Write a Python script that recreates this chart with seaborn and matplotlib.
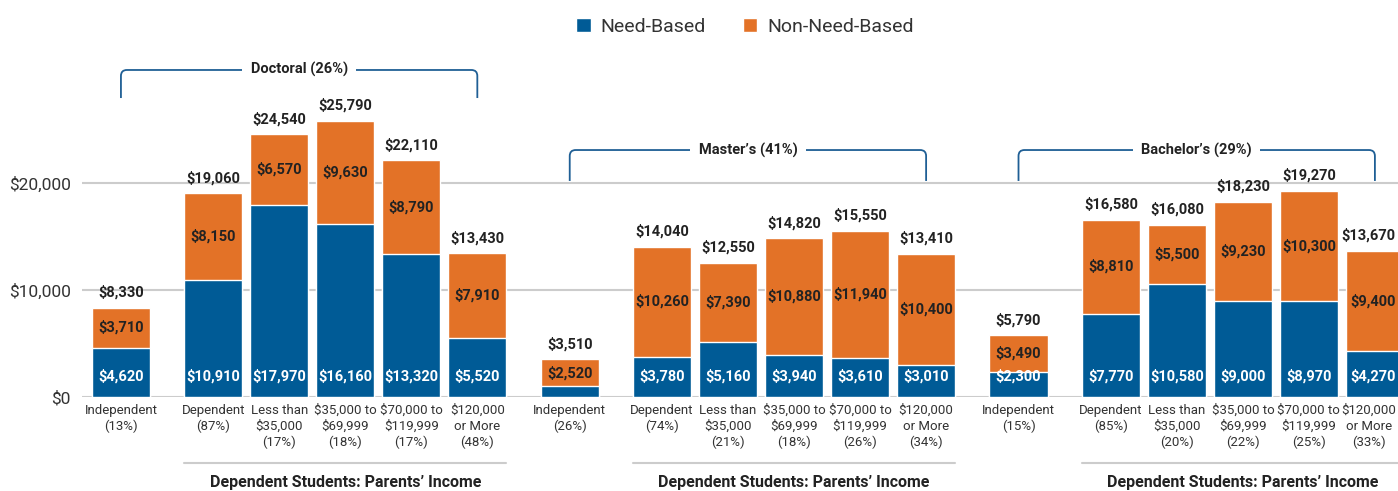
import numpy as np
import pandas as pd
import matplotlib
matplotlib.use("Agg")
import matplotlib.pyplot as plt
from matplotlib.patches import Patch, PathPatch
from matplotlib.path import Path
from matplotlib.transforms import ScaledTranslation
import seaborn as sns

# ---- data ----
levels = ["Doctoral (26%)", "Master\u2019s (41%)", "Bachelor\u2019s (29%)"]
groups = ["Independent", "Dependent", "Less than\n$35,000", "$35,000 to\n$69,999",
          "$70,000 to\n$119,999", "$120,000\nor More"]
shares = [[13, 87, 17, 18, 17, 48],
          [26, 74, 21, 18, 26, 34],
          [15, 85, 20, 22, 25, 33]]
need_based = [[4620, 10910, 17970, 16160, 13320, 5520],
              [990, 3780, 5160, 3940, 3610, 3010],
              [2300, 7770, 10580, 9000, 8970, 4270]]
non_need_based = [[3710, 8150, 6570, 9630, 8790, 7910],
                  [2520, 10260, 7390, 10880, 11940, 10400],
                  [3490, 8810, 5500, 9230, 10300, 9400]]

BLUE = "#005b96"
ORANGE = "#e37227"
TXT = "#222222"
BRACKET = "#1f5f95"

# bar positions: independent bar, a gap, then the five dependent bars
offsets = [0, 1.4, 2.4, 3.4, 4.4, 5.4]
group_step = 6.8

rows = []
for g, lev in enumerate(levels):
    for i, grp in enumerate(groups):
        rows.append({
            "level": lev,
            "pos": round(g * group_step + offsets[i], 2),
            "label": f"{grp}\n({shares[g][i]}%)",
            "need": need_based[g][i],
            "nonneed": non_need_based[g][i],
        })
df = pd.DataFrame(rows)
df["total"] = df["need"] + df["nonneed"]

sns.set_style("white")
plt.rcParams["font.family"] = ["Roboto", "DejaVu Sans"]
VS = 10.5

fig = plt.figure(figsize=(13.98, 4.91), dpi=100)
ax = fig.add_axes([82 / 1398, 94 / 491, 1316 / 1398, 397 / 491])

W = 0.88
sns.barplot(data=df, x="pos", y="total", native_scale=True, color=ORANGE,
            saturation=1, width=W, errorbar=None, ax=ax, zorder=2)
sns.barplot(data=df, x="pos", y="need", native_scale=True, color=BLUE,
            saturation=1, width=W, errorbar=None, ax=ax, zorder=3)

ax.set_xlim(-0.59, 19.35)
ax.set_ylim(0, 37100)
ax.set_yticks([0, 10000, 20000])
ax.set_yticklabels(["$0", "$10,000", "$20,000"])
ax.set_xticks(df["pos"])
ax.set_xticklabels(df["label"], fontsize=9.5, color="#333333", linespacing=1.25)
ax.tick_params(axis="both", length=0)
ax.tick_params(axis="x", pad=5)
ax.tick_params(axis="y", pad=8, labelsize=12.5, labelcolor="#333333")
ax.set_xlabel("")
ax.set_ylabel("")
for s in ax.spines.values():
    s.set_visible(False)
ax.grid(axis="y", color="#cccccc", linewidth=1.5)
ax.set_axisbelow(True)

bold = dict(fontweight="bold", ha="center", va="center")

# value labels
for _, r in df.iterrows():
    ax.text(r["pos"], r["total"] + 1420, f"${r['total']:,}", fontsize=VS, color=TXT, **bold)
    ax.text(r["pos"], r["need"] + r["nonneed"] / 2, f"${r['nonneed']:,}", fontsize=VS,
            color=TXT, zorder=4, **bold)
    if r["need"] >= 1500:
        ax.text(r["pos"], 1970, f"${r['need']:,}", fontsize=VS, color="white",
                zorder=4, **bold)

# brackets with level names
bracket_y = [(30560, 27940), (23080, 20190), (23080, 20190)]
for g, lev in enumerate(levels):
    x0 = g * group_step + offsets[0]
    x1 = g * group_step + offsets[-1]
    top, bot = bracket_y[g]
    rx, ry = 0.09, 560
    verts = [(x0, bot), (x0, top - ry), (x0, top), (x0 + rx, top),
             (x1 - rx, top), (x1, top), (x1, top - ry), (x1, bot)]
    codes = [Path.MOVETO, Path.LINETO, Path.CURVE3, Path.CURVE3,
             Path.LINETO, Path.CURVE3, Path.CURVE3, Path.LINETO]
    ax.add_patch(PathPatch(Path(verts, codes), fill=False, edgecolor=BRACKET,
                           linewidth=1.3, clip_on=False, zorder=1))
    ax.text((x0 + x1) / 2, top, lev, fontsize=VS, color=TXT, zorder=2,
            bbox=dict(facecolor="white", edgecolor="none", pad=6), **bold)

    # dependent-students underline and caption
    d0 = g * group_step + offsets[1] - W / 2
    d1 = g * group_step + offsets[-1] + W / 2
    ax.plot([d0, d1], [-6170, -6170], color="#cccccc", linewidth=1.5, clip_on=False)
    ax.text((d0 + d1) / 2, -8000, "Dependent Students: Parents\u2019 Income",
            fontsize=11.5, color=TXT, **bold)

handles = [Patch(facecolor=BLUE, label="Need-Based"),
           Patch(facecolor=ORANGE, label="Non-Need-Based")]
fig.legend(handles=handles, loc="upper center", bbox_to_anchor=(745 / 1398, 1.0),
           ncol=2, frameon=False, fontsize=14, handlelength=0.75, handleheight=0.75,
           handletextpad=0.5, columnspacing=1.9, labelcolor="#333333")

# keep texts at the right edge inside the picture
fig.canvas.draw()
rend = fig.canvas.get_renderer()
edge = fig.bbox.width - 2
for t in list(ax.texts) + list(ax.get_xticklabels()):
    over = t.get_window_extent(rend).x1 - edge
    if over > 0:
        t.set_transform(t.get_transform() + ScaledTranslation(-over / fig.dpi, 0,
                                                              fig.dpi_scale_trans))

fig.savefig("out.png", dpi=100)
